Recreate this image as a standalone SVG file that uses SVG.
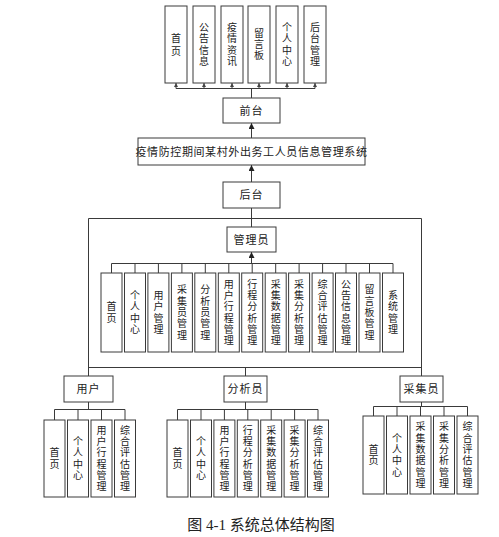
<svg xmlns="http://www.w3.org/2000/svg" width="499" height="537" viewBox="0 0 499 537">
<style>
.b{fill:#fff;stroke:#3a3a3a;stroke-width:1}
.t{font-family:"Liberation Sans","Noto Sans CJK SC",sans-serif;font-size:11px;fill:#222;text-anchor:middle;dominant-baseline:central;letter-spacing:1px}
.v{font-size:10px;letter-spacing:0}
.c path{fill:none;stroke:#3a3a3a;stroke-width:1}
.cap{font-family:"Liberation Serif","Noto Sans CJK SC",serif;font-size:15px;fill:#222;text-anchor:middle}
</style>
<defs>
<marker id="ar" viewBox="0 0 10 10" refX="10" refY="5" markerWidth="6" markerHeight="6" markerUnits="userSpaceOnUse" orient="auto"><path d="M0,0L10,5L0,10z" fill="#222"/></marker>
<marker id="as" viewBox="0 0 10 10" refX="10" refY="5" markerWidth="4" markerHeight="4" markerUnits="userSpaceOnUse" orient="auto"><path d="M0,0L10,5L0,10z" fill="#444"/></marker>
</defs>
<rect width="499" height="537" fill="#fff"/>
<g class="c" id="connectors">
<path d="M176,88.5H315"/>
<path d="M176,88.5V83" marker-end="url(#as)"/>
<path d="M204,88.5V83" marker-end="url(#as)"/>
<path d="M232,88.5V83" marker-end="url(#as)"/>
<path d="M259,88.5V83" marker-end="url(#as)"/>
<path d="M287,88.5V83" marker-end="url(#as)"/>
<path d="M315,88.5V83" marker-end="url(#as)"/>
<path d="M251.5,98V88.5"/>
<path d="M251.5,138V123" marker-end="url(#ar)"/>
<path d="M251.5,182V165" marker-end="url(#ar)"/>
<path d="M251.5,208V227"/>
<path d="M88.5,376V218.5H421.5V376"/>
<path d="M88.5,367.5H421.5"/>
<path d="M245.5,367.5V376"/>
<path d="M111.5,263.5H393"/>
<path d="M251.5,263.5V252" marker-end="url(#ar)"/>
<path d="M111.5,263.5V273M135,263.5V273M158.4,263.5V273M181.9,263.5V273M205.3,263.5V273M228.8,263.5V273M252.2,263.5V273M275.7,263.5V273M299.1,263.5V273M322.6,263.5V273M346,263.5V273M369.5,263.5V273M393,263.5V273"/>
<path d="M88.5,402V409.5M54.5,409.5H125M54.5,409.5V420M78,409.5V420M101.5,409.5V420M125,409.5V420"/>
<path d="M245.5,402V409.5M177.5,409.5H318M177.5,409.5V420M201,409.5V420M224.4,409.5V420M247.8,409.5V420M271.2,409.5V420M294.6,409.5V420M318,409.5V420"/>
<path d="M421.5,402V406.5M373.5,406.5H467.5M373.5,406.5V416M397,406.5V416M420.5,406.5V416M444,406.5V416M467.5,406.5V416"/>
</g>
<g id="top">
<g id="n-shouye"><rect class="b" x="165" y="6" width="22" height="77"/><text class="t v" x="176 176" y="38 51">首页</text></g>
<g id="n-gonggao"><rect class="b" x="193" y="6" width="22" height="77"/><text class="t v" x="204 204 204 204" y="27.5 38.8 50.2 61.5">公告信息</text></g>
<g id="n-yiqing"><rect class="b" x="221" y="6" width="22" height="77"/><text class="t v" x="232 232 232 232" y="27.5 38.8 50.2 61.5">疫情资讯</text></g>
<g id="n-liuyan"><rect class="b" x="248" y="6" width="22" height="77"/><text class="t v" x="259 259 259" y="33.2 44.5 55.8">留言板</text></g>
<g id="n-geren"><rect class="b" x="276" y="6" width="22" height="77"/><text class="t v" x="287 287 287 287" y="27.5 38.8 50.2 61.5">个人中心</text></g>
<g id="n-houtaiguanli"><rect class="b" x="304" y="6" width="22" height="77"/><text class="t v" x="315 315 315 315" y="27.5 38.8 50.2 61.5">后台管理</text></g>
</g>
<g id="n-qiantai"><rect class="b" x="223" y="98" width="57" height="25"/><text class="t" x="251.5" y="110.5">前台</text></g>
<g id="n-system"><rect class="b" x="138" y="138" width="227" height="27"/><text class="t" x="251.5" y="151.5" style="letter-spacing:0.6px">疫情防控期间某村外出务工人员信息管理系统</text></g>
<g id="n-houtai"><rect class="b" x="223" y="182" width="57" height="26"/><text class="t" x="251.5" y="195">后台</text></g>
<g id="n-admin"><rect class="b" x="227" y="227" width="49" height="25"/><text class="t" x="251.5" y="239.5">管理员</text></g>
<g id="admin-children">
<g id="a1"><rect class="b" x="101" y="273" width="21" height="79"/><text class="t v" x="111.5 111.5" y="306.8 318.2">首页</text></g>
<g id="a2"><rect class="b" x="124.5" y="273" width="21" height="79"/><text class="t v" x="135 135 135 135" y="295.5 306.8 318.2 329.5">个人中心</text></g>
<g id="a3"><rect class="b" x="147.9" y="273" width="21" height="79"/><text class="t v" x="158.4 158.4 158.4 158.4" y="295.5 306.8 318.2 329.5">用户管理</text></g>
<g id="a4"><rect class="b" x="171.4" y="273" width="21" height="79"/><text class="t v" x="181.9 181.9 181.9 181.9 181.9" y="289.9 301.2 312.5 323.8 335.1">采集员管理</text></g>
<g id="a5"><rect class="b" x="194.8" y="273" width="21" height="79"/><text class="t v" x="205.3 205.3 205.3 205.3 205.3" y="289.9 301.2 312.5 323.8 335.1">分析员管理</text></g>
<g id="a6"><rect class="b" x="218.3" y="273" width="21" height="79"/><text class="t v" x="228.8 228.8 228.8 228.8 228.8 228.8" y="284.2 295.5 306.8 318.2 329.5 340.8">用户行程管理</text></g>
<g id="a7"><rect class="b" x="241.7" y="273" width="21" height="79"/><text class="t v" x="252.2 252.2 252.2 252.2 252.2 252.2" y="284.2 295.5 306.8 318.2 329.5 340.8">行程分析管理</text></g>
<g id="a8"><rect class="b" x="265.2" y="273" width="21" height="79"/><text class="t v" x="275.7 275.7 275.7 275.7 275.7 275.7" y="284.2 295.5 306.8 318.2 329.5 340.8">采集数据管理</text></g>
<g id="a9"><rect class="b" x="288.6" y="273" width="21" height="79"/><text class="t v" x="299.1 299.1 299.1 299.1 299.1 299.1" y="284.2 295.5 306.8 318.2 329.5 340.8">采集分析管理</text></g>
<g id="a10"><rect class="b" x="312.1" y="273" width="21" height="79"/><text class="t v" x="322.6 322.6 322.6 322.6 322.6 322.6" y="284.2 295.5 306.8 318.2 329.5 340.8">综合评估管理</text></g>
<g id="a11"><rect class="b" x="335.5" y="273" width="21" height="79"/><text class="t v" x="346 346 346 346 346 346" y="284.2 295.5 306.8 318.2 329.5 340.8">公告信息管理</text></g>
<g id="a12"><rect class="b" x="359" y="273" width="21" height="79"/><text class="t v" x="369.5 369.5 369.5 369.5 369.5" y="289.9 301.2 312.5 323.8 335.1">留言板管理</text></g>
<g id="a13"><rect class="b" x="382.5" y="273" width="21" height="79"/><text class="t v" x="393 393 393 393" y="295.5 306.8 318.2 329.5">系统管理</text></g>
</g>
<g id="n-user"><rect class="b" x="64" y="376" width="49" height="26"/><text class="t" x="88.5" y="389">用户</text></g>
<g id="n-analyst"><rect class="b" x="224" y="376" width="43" height="26"/><text class="t" x="245.5" y="389">分析员</text></g>
<g id="n-collector"><rect class="b" x="400" y="376" width="43" height="26"/><text class="t" x="421.5" y="389">采集员</text></g>
<g id="user-children">
<g id="u1"><rect class="b" x="44" y="420" width="21" height="77"/><text class="t v" x="54.5 54.5" y="452.8 464.2">首页</text></g>
<g id="u2"><rect class="b" x="67.5" y="420" width="21" height="77"/><text class="t v" x="78 78 78 78" y="441.5 452.8 464.2 475.5">个人中心</text></g>
<g id="u3"><rect class="b" x="91" y="420" width="21" height="77"/><text class="t v" x="101.5 101.5 101.5 101.5 101.5 101.5" y="430.2 441.5 452.8 464.2 475.5 486.8">用户行程管理</text></g>
<g id="u4"><rect class="b" x="114.5" y="420" width="21" height="77"/><text class="t v" x="125 125 125 125 125 125" y="430.2 441.5 452.8 464.2 475.5 486.8">综合评估管理</text></g>
</g>
<g id="analyst-children">
<g id="f1"><rect class="b" x="167" y="420" width="21" height="77"/><text class="t v" x="177.5 177.5" y="452.8 464.2">首页</text></g>
<g id="f2"><rect class="b" x="190.5" y="420" width="21" height="77"/><text class="t v" x="201 201 201 201" y="441.5 452.8 464.2 475.5">个人中心</text></g>
<g id="f3"><rect class="b" x="213.9" y="420" width="21" height="77"/><text class="t v" x="224.4 224.4 224.4 224.4 224.4 224.4" y="430.2 441.5 452.8 464.2 475.5 486.8">用户行程管理</text></g>
<g id="f4"><rect class="b" x="237.3" y="420" width="21" height="77"/><text class="t v" x="247.8 247.8 247.8 247.8 247.8 247.8" y="430.2 441.5 452.8 464.2 475.5 486.8">行程分析管理</text></g>
<g id="f5"><rect class="b" x="260.7" y="420" width="21" height="77"/><text class="t v" x="271.2 271.2 271.2 271.2 271.2 271.2" y="430.2 441.5 452.8 464.2 475.5 486.8">采集数据管理</text></g>
<g id="f6"><rect class="b" x="284.1" y="420" width="21" height="77"/><text class="t v" x="294.6 294.6 294.6 294.6 294.6 294.6" y="430.2 441.5 452.8 464.2 475.5 486.8">采集分析管理</text></g>
<g id="f7"><rect class="b" x="307.5" y="420" width="21" height="77"/><text class="t v" x="318 318 318 318 318 318" y="430.2 441.5 452.8 464.2 475.5 486.8">综合评估管理</text></g>
</g>
<g id="collector-children">
<g id="c1"><rect class="b" x="363" y="416" width="21" height="78"/><text class="t v" x="373.5 373.5" y="449.3 460.7">首页</text></g>
<g id="c2"><rect class="b" x="386.5" y="416" width="21" height="78"/><text class="t v" x="397 397 397 397" y="438 449.3 460.7 472">个人中心</text></g>
<g id="c3"><rect class="b" x="410" y="416" width="21" height="78"/><text class="t v" x="420.5 420.5 420.5 420.5 420.5 420.5" y="426.8 438 449.3 460.7 472 483.3">采集数据管理</text></g>
<g id="c4"><rect class="b" x="433.5" y="416" width="21" height="78"/><text class="t v" x="444 444 444 444 444 444" y="426.8 438 449.3 460.7 472 483.3">采集分析管理</text></g>
<g id="c5"><rect class="b" x="457" y="416" width="21" height="78"/><text class="t v" x="467.5 467.5 467.5 467.5 467.5 467.5" y="426.8 438 449.3 460.7 472 483.3">综合评估管理</text></g>
</g>
<text class="cap" x="261" y="530">图 4-1 系统总体结构图</text>
</svg>
